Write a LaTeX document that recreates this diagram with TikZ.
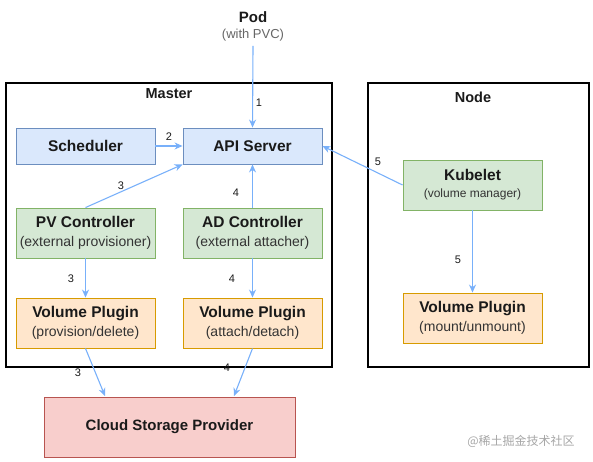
\documentclass[tikz,border=0pt]{standalone}
\usepackage{fontspec}
\setmainfont{Liberation Sans}
\newfontfamily\cjkfont{Noto Sans CJK SC}
\usetikzlibrary{arrows.meta}
\definecolor{arr}{RGB}{120,176,250}
\definecolor{bluef}{HTML}{DAE8FC}\definecolor{blues}{HTML}{6C8EBF}
\definecolor{greenf}{HTML}{D5E8D4}\definecolor{greens}{HTML}{82B366}
\definecolor{orangef}{HTML}{FFE6CC}\definecolor{oranges}{HTML}{D79B00}
\definecolor{redf}{HTML}{F8CECC}\definecolor{reds}{HTML}{B85450}
\definecolor{txt}{HTML}{1A1A1A}
\definecolor{subtxt}{HTML}{333333}
\tikzset{
  box/.style={draw, line width=0.9pt, minimum width=139pt, inner sep=0pt, align=center, text=txt, font=\fontsize{14}{19}\selectfont},
  bluebox/.style={box, fill=bluef, draw=blues, minimum height=36pt},
  greenbox/.style={box, fill=greenf, draw=greens, minimum height=50pt},
  orangebox/.style={box, fill=orangef, draw=oranges, minimum height=50pt},
  redbox/.style={box, fill=redf, draw=reds, minimum width=251pt, minimum height=60pt},
  frame/.style={draw=black, line width=2pt},
  conn/.style={draw=arr, line width=1.1pt, -{Stealth[length=8pt,width=7pt]}},
  num/.style={font=\fontsize{11}{13}\selectfont, text=txt, inner sep=0pt},
  ttl/.style={font=\bfseries\fontsize{14.5}{17}\selectfont, text=txt, inner sep=0pt}
}
\newcommand{\tl}[1]{{\bfseries\fontsize{15.5}{19}\selectfont #1}}
\newcommand{\sub}[1]{{\color{subtxt}\fontsize{14}{19}\selectfont #1}}
\begin{document}
\begin{tikzpicture}[x=1pt,y=-1pt]
\useasboundingbox (0,0) rectangle (593,462);
% frames
\draw[frame] (6,83) rectangle (332,367);
\draw[frame] (368,83) rectangle (589,367);
\node[ttl] (master) at (169,94) {Master};
\node[ttl] (nodelbl) at (473,97) {Node};
% pod
\node[ttl, font=\bfseries\fontsize{15}{18}\selectfont] (pod) at (253,17) {Pod};
\node[inner sep=0pt, text=black!60, font=\fontsize{13}{16}\selectfont] (podsub) at (253,35) {(with PVC)};
\coordinate (podb) at (253,46);
% boxes
\node[bluebox] (sched) at (85.5,146) {\tl{Scheduler}};
\node[bluebox] (api) at (252.5,146) {\tl{API Server}};
\node[greenbox] (pv) at (85.5,233) {\tl{PV Controller}\\\sub{(external provisioner)}};
\node[greenbox] (ad) at (252.5,233) {\tl{AD Controller}\\\sub{(external attacher)}};
\node[orangebox] (vp1) at (85.5,323) {\tl{Volume Plugin}\\\sub{(provision/delete)}};
\node[orangebox] (vp2) at (252.5,323) {\tl{Volume Plugin}\\\sub{(attach/detach)}};
\node[greenbox, font=\fontsize{12}{17}\selectfont] (kub) at (472.5,185) {\tl{Kubelet}\\{\color{subtxt}\fontsize{12}{17}\selectfont (volume manager)}};
\node[orangebox] (vp3) at (472.5,318) {\tl{Volume Plugin}\\\sub{(mount/unmount)}};
\node[redbox] (cloud) at (169.5,427) {{\bfseries\fontsize{15}{17}\selectfont Cloud Storage Provider}};
% connectors
\draw[conn] (podb) -- (api.north);
\node[num] (n1) at (259,103) {1};
\draw[conn] (sched.east) -- (api.west);
\node[num] (n2) at (169,137) {2};
\draw[conn] (pv.north) -- (api.south west);
\node[num] (n3a) at (121,186) {3};
\draw[conn] (ad.north) -- (api.south);
\node[num] (n4a) at (236,193) {4};
\draw[conn] (pv.south) -- (vp1.north);
\node[num] (n3b) at (71,279) {3};
\draw[conn] (ad.south) -- (vp2.north);
\node[num] (n4b) at (232,279) {4};
\coordinate (c3) at (105,396);
\coordinate (c4) at (234,396);
\draw[conn] (vp1.south) -- (c3);
\node[num] (n3c) at (78,373) {3};
\draw[conn] (vp2.south) -- (c4);
\node[num] (n4c) at (227,368) {4};
\draw[conn] (kub.west) -- (api.east);
\node[num] (n5a) at (378,162) {5};
\draw[conn] (kub.south) -- (vp3.north);
\node[num] (n5b) at (458,260) {5};
% watermark
\node[text=black!35, inner sep=0pt, font=\cjkfont\fontsize{12}{14}\selectfont] (wm) at (521,441) {@稀土掘金技术社区};
\end{tikzpicture}
\end{document}
